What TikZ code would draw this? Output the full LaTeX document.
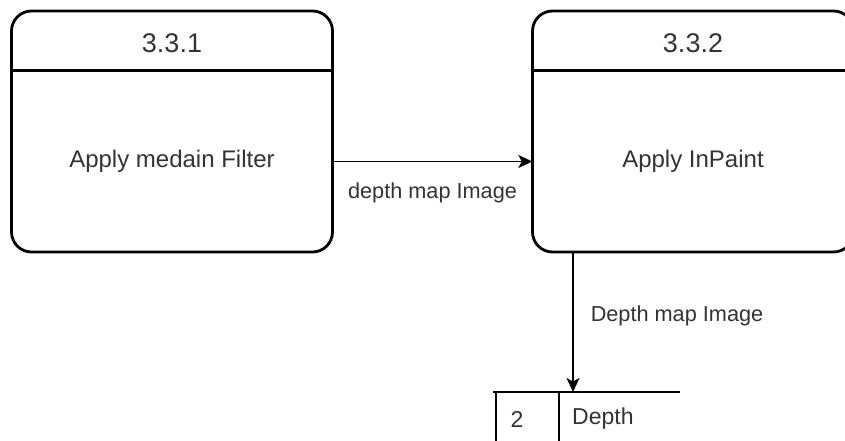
\documentclass[tikz,border=0pt]{standalone}
\usepackage{fontspec}
\setmainfont{Liberation Sans}
\usetikzlibrary{arrows.meta}
\definecolor{txtgray}{HTML}{333333}

\begin{document}
\begin{tikzpicture}[x=1pt, y=-1pt,
        process/.style={draw, line width=2.8pt, rounded corners=20pt, minimum width=321pt, minimum height=241pt, inner sep=0pt},
        part/.style={minimum width=321pt, inner sep=0pt, text=txtgray},
        flow/.style={line width=1.5pt, -{Stealth[length=14pt, width=13pt, inset=3.5pt]}},
        flowlabel/.style={inner sep=0pt, font=\fontsize{21.7}{24}\selectfont, text=txtgray}]

        \coordinate (O) at (0,0);
        \coordinate (ds) at (573,392);
        \coordinate (dsl) at (493,392);
        \coordinate (dsr) at (680,392);
        \coordinate (dsa) at (496,392);
        \coordinate (dsb) at (559,392);
        \useasboundingbox (O) rectangle (845,441);

        \node[process] (p1) at (172,131.5) {};
        \node[process] (p2) at (693,131.5) {};
        \node[part, font=\fontsize{27}{30}\selectfont] (t1) at (172,43.5) {3.3.1};
        \node[part, font=\fontsize{27}{30}\selectfont] (t2) at (693,43.5) {3.3.2};
        \node[part, minimum height=181pt, font=\fontsize{24}{28}\selectfont] (b1) at (172,161.5) {Apply medain Filter};
        \node[part, minimum height=181pt, font=\fontsize{24}{28}\selectfont] (b2) at (693,161.5) {Apply InPaint};
        \draw[line width=2.8pt] (b1.north west) -- (b1.north east);
        \draw[line width=2.8pt] (b2.north west) -- (b2.north east);

        \draw[flow] (b1.east) -- (b2.west) node[flowlabel, midway, yshift=-31pt] (l1) {depth map Image};
        \draw[flow] (p2.south -| ds) -- (ds) node[flowlabel, pos=0.45, right=17pt] (l2) {Depth map Image};

        \draw[line width=1.5pt] (dsl) -- (dsr);
        \draw[line width=1.5pt] (dsa) -- ++(0,60);
        \draw[line width=1.5pt] (dsb) -- ++(0,60);
        \node[inner sep=0pt, font=\fontsize{23}{26}\selectfont, text=txtgray] (n2) at (517,419) {2};
        \node[inner sep=0pt, anchor=west, font=\fontsize{23}{26}\selectfont, text=txtgray] (s2) at (572,419) {Depth};

    \end{tikzpicture}
\end{document}
